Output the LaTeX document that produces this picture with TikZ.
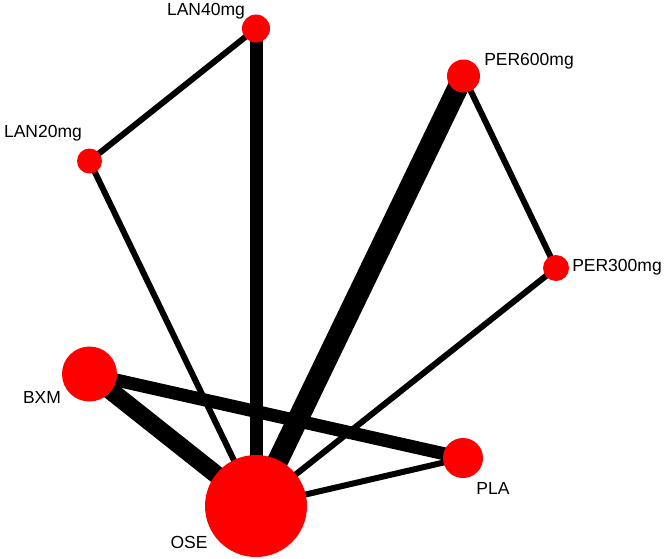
\documentclass[tikz,border=0pt]{standalone}
\usepackage{fontspec}
\setmainfont{Liberation Sans}
\usetikzlibrary{backgrounds}
\tikzset{
  trt/.style={circle, fill=red, inner sep=0pt},
  lbl/.style={inner sep=0pt, font=\fontsize{17.5}{20}\selectfont},
  edg/.style={line width=#1pt},
}
\begin{document}
\begin{tikzpicture}[x=1pt,y=-1pt]
        \useasboundingbox (0,0) rectangle (667,558);
        \node[trt, minimum size=102pt] (ose) at (256,506) {};
        \node[trt, minimum size=40pt] (pla) at (463,458) {};
        \node[trt, minimum size=55pt] (bxm) at (89.5,374) {};
        \node[trt, minimum size=25pt] (lan20) at (89.5,161) {};
        \node[trt, minimum size=28pt] (lan40) at (256,28.5) {};
        \node[trt, minimum size=26pt] (per300) at (556,268) {};
        \node[trt, minimum size=33pt] (per600) at (463.5,76) {};
        \node[lbl] (oselbl) at (189,542) {OSE};
        \node[lbl] (plalbl) at (493,488) {PLA};
        \node[lbl] (bxmlbl) at (42,397) {BXM};
        \node[lbl] (lan20lbl) at (43,133) {LAN20mg};
        \node[lbl] (lan40lbl) at (206,11) {LAN40mg};
        \node[lbl] (per300lbl) at (617,267) {PER300mg};
        \node[lbl] (per600lbl) at (529,61) {PER600mg};
        \begin{pgfonlayer}{background}
        \draw[edg=6] (lan40.center) -- (lan20.center);
        \draw[edg=13] (lan40.center) -- (ose.center);
        \draw[edg=6] (lan20.center) -- (ose.center);
        \draw[edg=6] (per600.center) -- (per300.center);
        \draw[edg=21] (per600.center) -- (ose.center);
        \draw[edg=6] (per300.center) -- (ose.center);
        \draw[edg=18] (bxm.center) -- (ose.center);
        \draw[edg=13] (bxm.center) -- (pla.center);
        \draw[edg=6] (ose.center) -- (pla.center);
        \end{pgfonlayer}
    \end{tikzpicture}
\end{document}
